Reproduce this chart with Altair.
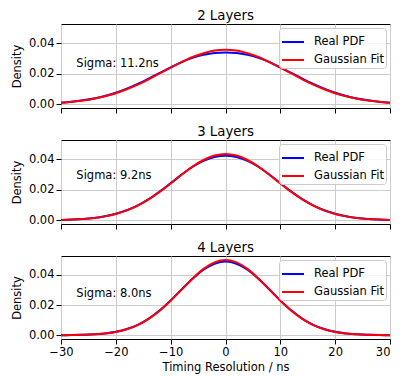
import altair as alt
import pandas as pd

x_ns = [-30, -28, -26, -24, -22, -20, -18, -16, -14, -12, -10, -8, -6, -4, -2, 0,
        2, 4, 6, 8, 10, 12, 14, 16, 18, 20, 22, 24, 26, 28, 30]

titles = ["2 Layers", "3 Layers", "4 Layers"]
sigma_labels = ["Sigma: 11.2ns", "Sigma: 9.2ns", "Sigma: 8.0ns"]
sigma_x = [-27.2, -27.2, -27.2]
sigma_y = [0.0246, 0.0272, 0.0254]
panel_heights = [84, 84, 83]

real_2 = [0.0010, 0.0016, 0.0025, 0.0037, 0.0054, 0.0075, 0.0102, 0.0133, 0.0168, 0.0205, 0.0241,
          0.0275, 0.0303, 0.0323, 0.0335, 0.0338, 0.0335, 0.0323, 0.0303, 0.0275, 0.0241,
          0.0205, 0.0168, 0.0133, 0.0102, 0.0075, 0.0054, 0.0037, 0.0025, 0.0016, 0.0010]
fit_2 = [0.0010, 0.0016, 0.0024, 0.0036, 0.0052, 0.0072, 0.0098, 0.0128, 0.0163, 0.0201, 0.0239,
         0.0276, 0.0309, 0.0334, 0.0351, 0.0356, 0.0351, 0.0334, 0.0309, 0.0276, 0.0239,
         0.0201, 0.0163, 0.0128, 0.0098, 0.0072, 0.0052, 0.0036, 0.0024, 0.0016, 0.0010]

real_3 = [0.0002, 0.0004, 0.0008, 0.0015, 0.0026, 0.0042, 0.0065, 0.0097, 0.0138, 0.0188, 0.0243,
          0.0299, 0.0350, 0.0389, 0.0414, 0.0422, 0.0414, 0.0389, 0.0350, 0.0299, 0.0243,
          0.0188, 0.0138, 0.0097, 0.0065, 0.0042, 0.0026, 0.0015, 0.0008, 0.0004, 0.0002]
fit_3 = [0.0002, 0.0004, 0.0008, 0.0014, 0.0025, 0.0041, 0.0064, 0.0096, 0.0136, 0.0185, 0.0240,
         0.0297, 0.0351, 0.0394, 0.0423, 0.0434, 0.0423, 0.0394, 0.0351, 0.0297, 0.0240,
         0.0185, 0.0136, 0.0096, 0.0064, 0.0041, 0.0025, 0.0014, 0.0008, 0.0004, 0.0002]

real_4 = [0.0000, 0.0001, 0.0003, 0.0006, 0.0012, 0.0023, 0.0041, 0.0069, 0.0110, 0.0165, 0.0231,
          0.0304, 0.0375, 0.0435, 0.0474, 0.0488, 0.0474, 0.0435, 0.0375, 0.0304, 0.0231,
          0.0165, 0.0110, 0.0069, 0.0041, 0.0023, 0.0012, 0.0006, 0.0003, 0.0001, 0.0000]
fit_4 = [0.0000, 0.0001, 0.0003, 0.0006, 0.0011, 0.0022, 0.0040, 0.0067, 0.0108, 0.0162, 0.0228,
         0.0302, 0.0376, 0.0440, 0.0483, 0.0499, 0.0483, 0.0440, 0.0376, 0.0302, 0.0228,
         0.0162, 0.0108, 0.0067, 0.0040, 0.0022, 0.0011, 0.0006, 0.0003, 0.0001, 0.0000]

series_names = ["Real PDF", "Gaussian Fit"]
series_colors = ["#0000ff", "#ff0000"]
x_ticks = [-30, -20, -10, 0, 10, 20, 30]
y_ticks = [0.0, 0.02, 0.04]

FONT = "DejaVu Sans"
FS = 11.5
PLOT_W = 329


def panel(idx, real, fit, bottom):
    df = pd.DataFrame({
        "x": x_ns + x_ns,
        "y": real + fit,
        "series": [series_names[0]] * len(x_ns) + [series_names[1]] * len(x_ns),
    })
    x_axis_kwargs = dict(
        values=x_ticks, format="d", labels=bottom, grid=True,
        labelFlush=False, labelOverlap=False, labelPadding=2, titlePadding=4,
        labelAlign={"condition": {"test": "datum.value == 30", "value": "right"},
                    "value": "center"},
    )
    if bottom:
        x_axis_kwargs["title"] = "Timing Resolution / ns"
    else:
        x_axis_kwargs["title"] = ""
    xenc = alt.X("x:Q", scale=alt.Scale(domain=[-30, 30], nice=False, zero=False),
                 axis=alt.Axis(**x_axis_kwargs))
    yenc = alt.Y("y:Q", scale=alt.Scale(domain=[-0.0025, 0.0525], nice=False, zero=False),
                 axis=alt.Axis(values=y_ticks, format=".2f", title="Density",
                               labelFlush=False, labelOverlap=False,
                               labelPadding=2, titlePadding=5.5))
    color = alt.Color("series:N",
                      scale=alt.Scale(domain=series_names, range=series_colors),
                      legend=alt.Legend(title=None, orient="top-right"))
    base = alt.Chart(df).encode(x=xenc, y=yenc, color=color)
    blue = base.transform_filter(alt.datum.series == series_names[0]).mark_line(
        strokeWidth=2, interpolate="monotone")
    red = base.transform_filter(alt.datum.series == series_names[1]).mark_line(
        strokeWidth=2, interpolate="monotone")
    tdf = pd.DataFrame({"x": [sigma_x[idx]], "y": [sigma_y[idx]], "label": [sigma_labels[idx]]})
    txt = alt.Chart(tdf).mark_text(align="left", baseline="alphabetic", font=FONT,
                                   fontSize=FS, color="black").encode(
        x="x:Q", y="y:Q", text="label:N")
    return alt.layer(blue, red, txt).properties(
        width=PLOT_W, height=panel_heights[idx],
        title=alt.TitleParams(titles[idx], fontSize=13.3, fontWeight="normal", font=FONT,
                              color="black", offset=2),
    )


chart = alt.vconcat(
    panel(0, real_2, fit_2, False),
    panel(1, real_3, fit_3, False),
    panel(2, real_4, fit_4, True),
    spacing=10,
).resolve_legend(color="independent").properties(
    padding={"left": 3, "top": 0, "right": 0, "bottom": 0}
).configure_view(
    stroke="black", strokeWidth=1
).configure_axis(
    domain=False, tickColor="black", tickSize=5, tickWidth=1,
    labelFont=FONT, labelFontSize=FS, labelColor="black",
    titleFont=FONT, titleFontSize=FS, titleColor="black", titleFontWeight="normal",
    gridColor="#cccccc", gridWidth=1,
).configure_legend(
    fillColor="rgba(255,255,255,0.8)", strokeColor="#cccccc", cornerRadius=3,
    padding=2, offset=4, symbolType="stroke", symbolSize=484, symbolStrokeWidth=2,
    labelFont=FONT, labelFontSize=FS, labelColor="black", labelOffset=9, rowPadding=-3.5,
)

chart.save("out.html", embed_options={"renderer": "svg", "actions": False})
